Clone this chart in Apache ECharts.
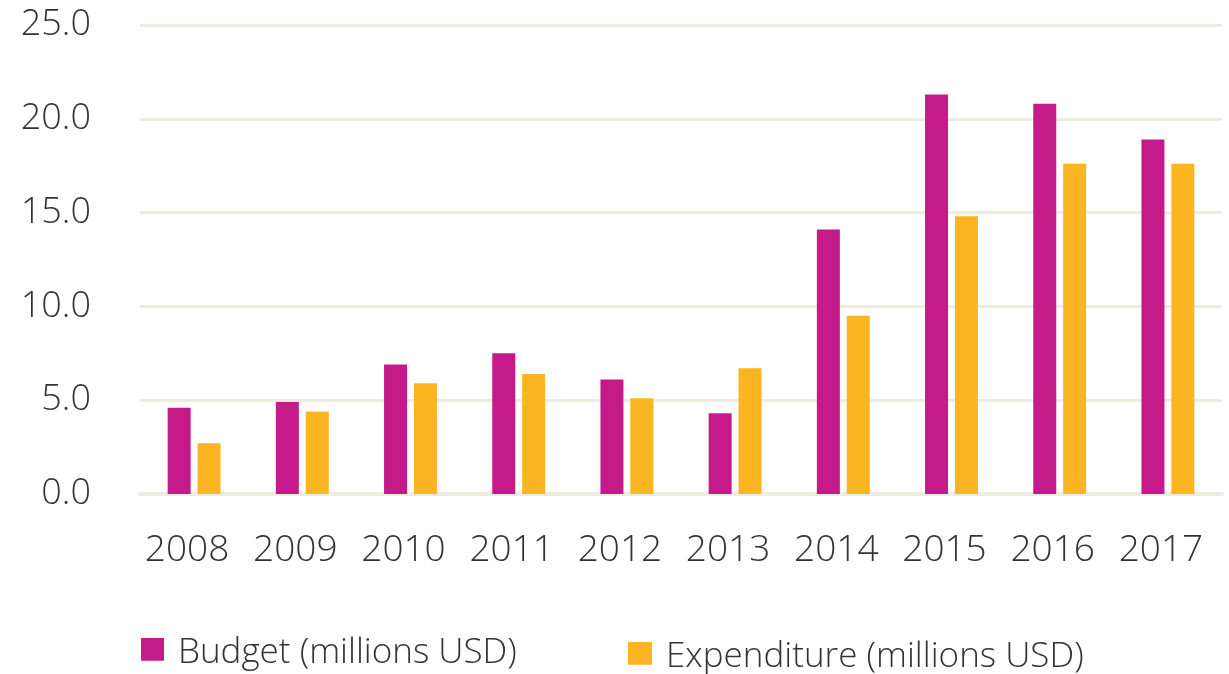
<!DOCTYPE html>
<html>
<head>
<meta charset="utf-8">
<script src="https://cdn.jsdelivr.net/npm/echarts@6/dist/echarts.min.js"></script>
<style>html,body{margin:0;padding:0;background:#fff}#c{width:1229px;height:674px}</style>
</head>
<body>
<div id="c"></div>
<script>
const years = ['2008','2009','2010','2011','2012','2013','2014','2015','2016','2017'];
const budget = [4.6, 4.9, 6.9, 7.5, 6.1, 4.3, 14.1, 21.3, 20.8, 18.9];
const expenditure = [2.7, 4.4, 5.9, 6.4, 5.1, 6.7, 9.5, 14.8, 17.6, 17.6];
const budgetName = 'Budget (millions USD)';
const expName = 'Expenditure (millions USD)';

const FONT = '"Open Sans", sans-serif';
const ICON = 'path://M0,0H22V22H0Z M0,30H0.1V30.1H0Z';
const chart = echarts.init(document.getElementById('c'));
chart.setOption({
  animation: false,
  backgroundColor: '#fff',
  grid: { left: 140, right: 7, top: 25, bottom: 180, containLabel: false },
  legend: [
    { data: [budgetName], left: 141, top: 636, padding: 0, itemWidth: 23, itemHeight: 31, itemGap: 14,
      symbolKeepAspect: false,
      textStyle: { fontFamily: FONT, fontWeight: 300, fontSize: 35, color: '#333', padding: [0, 0, 0, 9] }, icon: ICON },
    { data: [expName], left: 628, top: 640, padding: 0, itemWidth: 24, itemHeight: 31, itemGap: 14,
      symbolKeepAspect: false,
      textStyle: { fontFamily: FONT, fontWeight: 300, fontSize: 35, color: '#333', padding: [0, 0, 0, 9] }, icon: ICON }
  ],
  xAxis: {
    type: 'category', data: years,
    axisLine: { show: true, lineStyle: { color: '#ECECDF', width: 4 } },
    axisTick: { show: false },
    axisLabel: { interval: 0, margin: 38, fontFamily: FONT, fontWeight: 300, fontSize: 37, color: '#333',
      padding: [0, 14, 0, 0] }
  },
  yAxis: {
    type: 'value', min: 0, max: 25, interval: 5,
    axisLine: { show: false }, axisTick: { show: false },
    splitLine: { lineStyle: { color: '#ECECDF', width: 3 } },
    axisLabel: { margin: 49, fontFamily: FONT, fontWeight: 300, fontSize: 36, color: '#333',
      formatter: v => v.toFixed(1) }
  },
  series: [
    { name: budgetName, type: 'bar', data: budget, barWidth: 23, barGap: '30%',
      itemStyle: { color: '#C51B8A' } },
    { name: expName, type: 'bar', data: expenditure, barWidth: 23,
      itemStyle: { color: '#FBB522' } }
  ]
});
</script>
</body>
</html>
